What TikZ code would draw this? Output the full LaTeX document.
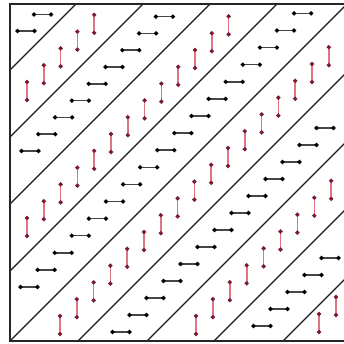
\documentclass[tikz,border=0pt]{standalone}
\usetikzlibrary{arrows.meta}
\definecolor{redline}{RGB}{225,115,135}
\definecolor{redtip}{RGB}{120,30,50}
\definecolor{blkline}{RGB}{70,70,70}
\tikzset{
  blkarrow/.style={draw=blkline,line width=1.5pt,
    {Circle[length=4pt,color=black]}-{Circle[length=4pt,color=black]}},
  redarrow/.style={draw=redline,line width=1.6pt,
    {Circle[length=4pt,color=redtip]}-{Circle[length=4pt,color=redtip]}},
  frame/.style={draw=black!85,line width=1.4pt},
  diag/.style={draw=black!90,line width=1.3pt}
}
\begin{document}
\begin{tikzpicture}[x=1pt,y=-1pt]
\useasboundingbox (0,0) rectangle (343,344);
\fill[white] (0,0) rectangle (343,344);
\begin{scope}
  \clip (10,4) rectangle (347,341);
  \foreach \c in {271,204,137,70,0,-68,-137,-204,-273}{
    \draw[diag] ({10-60},{341-(-60+\c)}) -- ({10+420},{341-(420+\c)});
  }
\end{scope}
% black horizontal arrows
\foreach \c/\u/\s/\n in {294/16/16.5/2, 170/20/16.8/9, 35/19/17.1/17, -102/111/17/13, -237/252/17/5}{
  \foreach \k in {1,...,\n}{
    \pgfmathsetmacro\uu{\u+(\k-1)*\s}
    \pgfmathsetmacro\xx{10+\uu}
    \pgfmathsetmacro\yy{341-\uu-(\c)}
    \draw[blkarrow] ({\xx-10.5},\yy) -- ({\xx+10.5},\yy);
  }
}
% red vertical arrows
\foreach \c/\u/\s/\n in {233/17/16.8/5, 97/17/16.8/13, -34/50/16.8/17, -170/186/16.9/9, -291/309/17/2}{
  \foreach \k in {1,...,\n}{
    \pgfmathsetmacro\uu{\u+(\k-1)*\s}
    \pgfmathsetmacro\xx{10+\uu}
    \pgfmathsetmacro\yy{341-\uu-(\c)}
    \draw[redarrow] (\xx,{\yy-11}) -- (\xx,{\yy+11});
  }
}
\draw[frame] (10,4) rectangle (347,341);
\end{tikzpicture}
\end{document}
